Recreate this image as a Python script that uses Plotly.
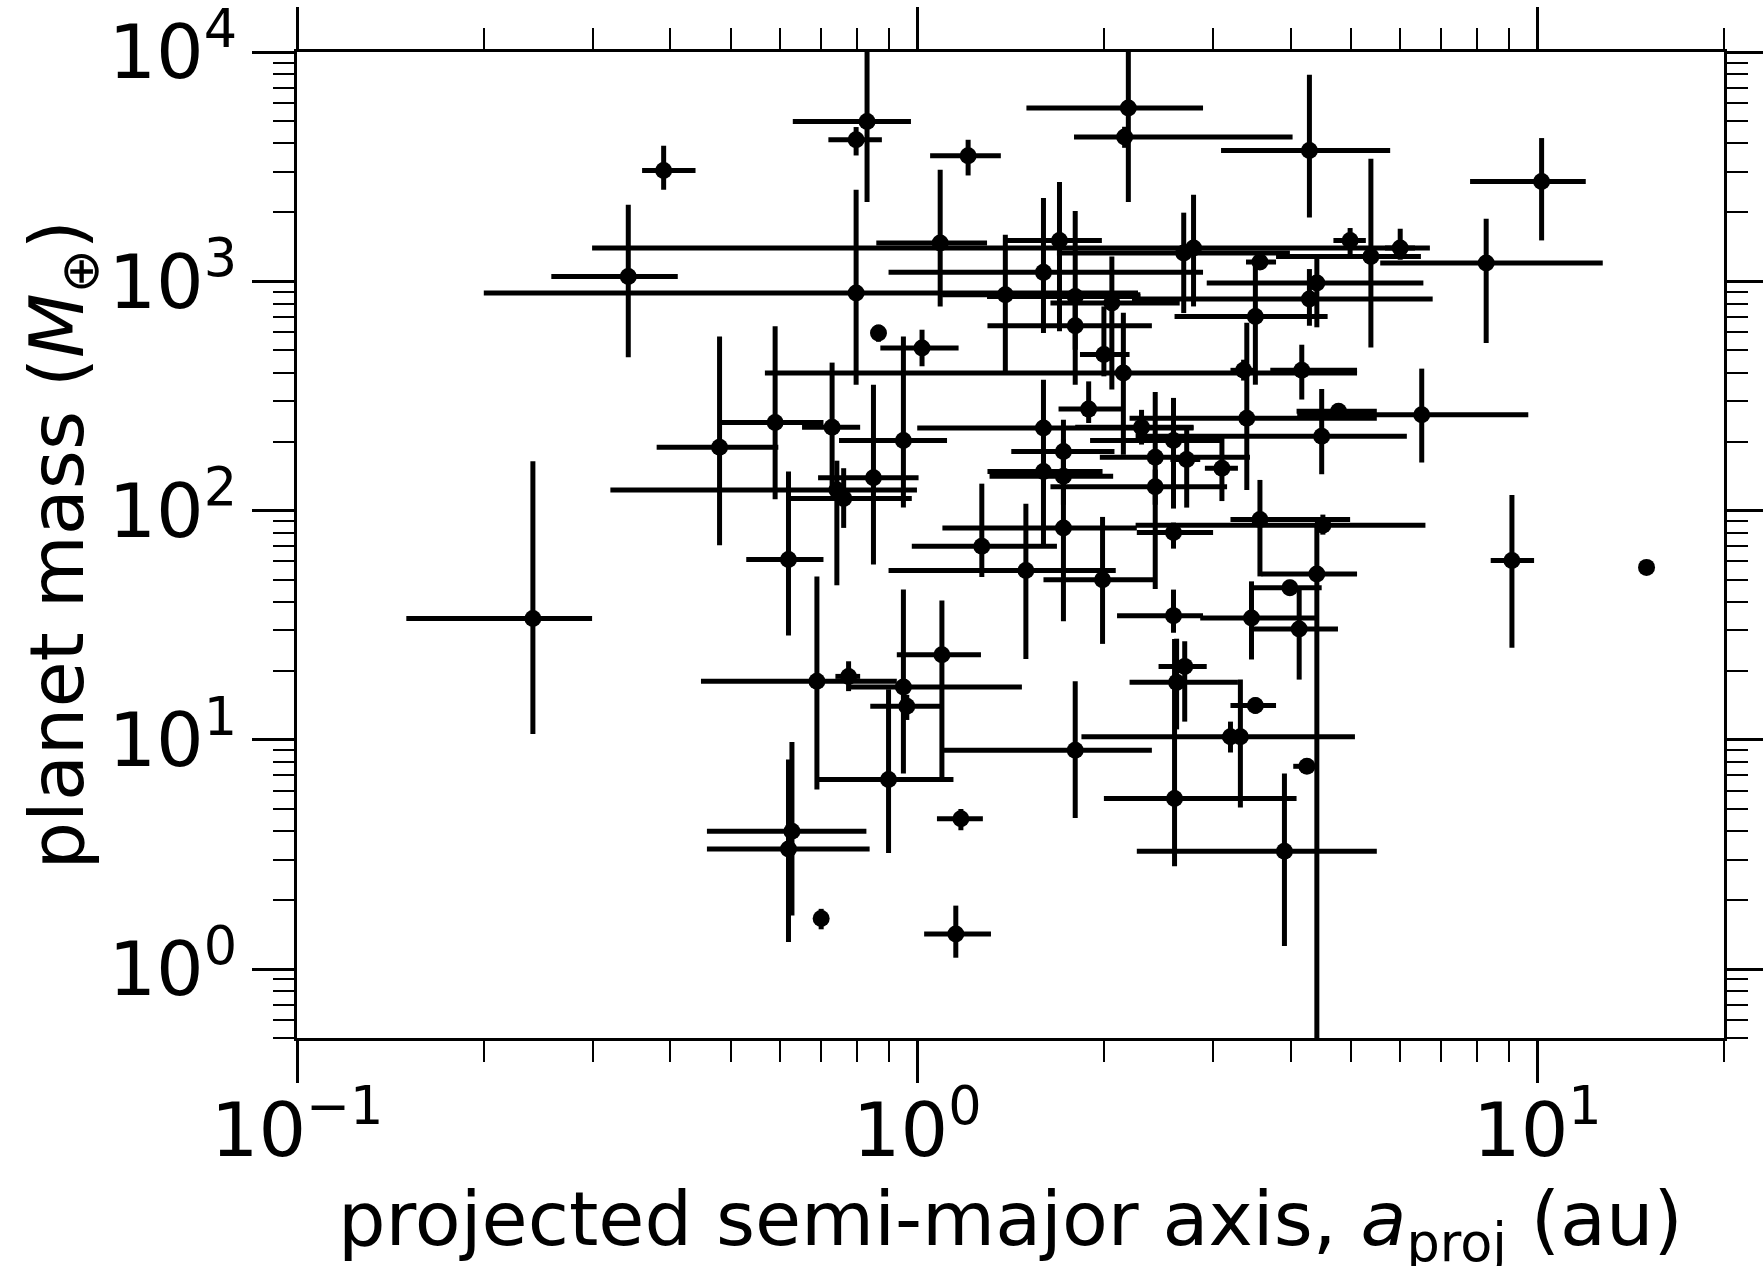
import math
import plotly.graph_objects as go

# projected semi-major axis (au): centre, lower bound, upper bound
a_proj = [0.390, 0.342, 0.240, 0.480, 0.689, 0.628, 0.620, 0.700, 1.176, 1.154,
          1.798, 2.60, 3.91, 3.20, 3.32, 4.25, 4.41, 3.51, 6.51, 4.78,
          3.40, 4.49, 3.57, 4.51, 3.99, 4.13, 3.46, 9.10, 15.0, 10.16,
          8.27, 4.29, 4.99, 6.01, 5.39, 3.57, 4.41, 4.29, 3.51, 4.17,
          0.830, 0.797, 1.208, 2.19, 2.16, 0.797, 1.089, 1.696, 2.79, 2.69,
          1.598, 1.387, 1.798, 2.06, 1.798, 2.00, 2.15, 3.36, 0.866, 1.018,
          0.590, 0.729, 0.950, 0.620, 0.850, 0.742, 0.761, 0.775, 0.950, 0.962,
          1.096, 0.899, 1.271, 1.497, 1.721, 1.99, 1.598, 1.598, 1.721, 1.721,
          1.89, 2.30, 2.59, 2.42, 2.42, 2.72, 3.10, 2.59, 2.59, 2.62, 2.70]
a_low = [0.360, 0.257, 0.150, 0.380, 0.448, 0.458, 0.458, 0.685, 1.076, 1.026,
         1.103, 2.00, 2.26, 3.10, 1.84, 4.04, 3.59, 3.20, 4.10, 4.09,
         2.20, 2.25, 3.20, 2.25, 3.48, 3.48, 2.86, 8.41, 15.0, 7.79,
         5.58, 3.09, 4.69, 5.68, 3.79, 3.39, 2.93, 2.22, 2.60, 3.71,
         0.630, 0.719, 1.049, 1.50, 1.79, 0.200, 0.859, 1.387, 0.299, 1.68,
         0.899, 1.097, 1.296, 1.64, 1.298, 1.83, 0.568, 3.20, 0.850, 0.872,
         0.481, 0.652, 0.748, 0.530, 0.692, 0.320, 0.624, 0.738, 0.770, 0.840,
         0.927, 0.689, 0.980, 0.899, 1.098, 1.598, 1.00, 1.298, 1.418, 1.308,
         1.69, 1.798, 1.90, 1.97, 1.64, 2.56, 2.91, 2.26, 2.10, 2.20, 2.45]
a_high = [0.439, 0.411, 0.299, 0.597, 0.927, 0.828, 0.838, 0.716, 1.276, 1.315,
          2.39, 4.09, 5.51, 3.29, 5.08, 4.38, 5.12, 3.79, 9.67, 5.51,
          5.51, 6.16, 4.99, 6.60, 4.49, 4.77, 4.41, 9.88, 15.0, 11.97,
          12.75, 5.79, 5.29, 6.35, 6.49, 3.79, 6.55, 6.78, 4.59, 5.12,
          0.977, 0.877, 1.364, 2.89, 4.03, 2.27, 1.296, 1.985, 6.71, 3.99,
          2.89, 2.29, 2.29, 2.65, 2.39, 2.20, 5.12, 3.52, 0.885, 1.166,
          0.706, 0.809, 1.117, 0.706, 1.005, 0.999, 0.980, 0.809, 1.475, 1.096,
          1.267, 1.144, 1.68, 2.09, 2.26, 2.40, 2.79, 1.99, 2.08, 2.07,
          2.14, 2.79, 3.08, 3.44, 3.16, 2.86, 3.29, 3.00, 2.89, 3.29, 2.93]

# planet mass (Earth masses): centre, lower bound, upper bound
mass = [3045, 1050, 33.8, 189, 18.0, 3.99, 3.34, 1.66, 4.52, 1.42,
        9.00, 5.54, 3.26, 10.3, 10.3, 7.66, 52.9, 14.1, 262, 271,
        253, 211, 91.3, 86.2, 46.0, 30.4, 34.0, 60.5, 56.5, 2728,
        1202, 3723, 1508, 1397, 1284, 1214, 983, 837, 703, 409,
        4977, 4145, 3529, 5700, 4260, 889, 1469, 1508, 1397, 1329,
        1094, 874, 859, 804, 640, 479, 398, 409, 595, 512,
        242, 231, 202, 61.1, 139, 123, 113, 18.9, 17.0, 14.0,
        23.5, 6.71, 69.8, 54.8, 84.0, 49.9, 229, 148, 181, 141,
        277, 231, 202, 171, 127, 167, 153, 80.3, 34.8, 17.8, 20.9]
mass_low = [2509, 466, 10.6, 70.5, 6.07, 1.71, 1.31, 1.49, 4.03, 1.12,
            4.56, 2.81, 1.26, 8.80, 5.06, 7.19, 0.3, 13.0, 162, 249,
            123, 144, 51.6, 78.5, 42.6, 18.3, 22.4, 25.2, 56.5, 1508,
            538, 1900, 1284, 1242, 515, 1124, 630, 640, 354, 305,
            2217, 3540, 2896, 2217, 3823, 354, 777, 605, 777, 727,
            595, 391, 354, 337, 503, 385, 175, 369, 545, 426,
            112, 123, 103, 28.5, 58.1, 47.2, 84.0, 16.3, 7.12, 12.2,
            6.59, 3.21, 51.3, 22.5, 32.9, 26.2, 68.7, 123, 136, 106,
            241, 194, 102, 45.5, 106, 103, 110, 68.2, 29.3, 11.1, 12.0]
mass_high = [3904, 2158, 164, 575, 51.6, 9.79, 8.20, 1.83, 4.99, 1.89,
             18.0, 27.5, 7.12, 12.0, 18.3, 8.20, 85.3, 15.3, 416, 293,
             660, 339, 136, 96, 49.9, 45.2, 49.1, 117, 56.5, 4216,
             1875, 7962, 1708, 1696, 3424, 1306, 1284, 1131, 1205, 529,
             15000, 4710, 4145, 15000, 4723, 2509, 3067, 2710, 2386, 1993,
             2308, 1597, 2025, 1284, 831, 777, 730, 455, 647, 615,
             636, 442, 575, 148, 354, 165, 153, 22.0, 45.2, 15.7,
             40.5, 16.6, 131, 107, 204, 93.8, 372, 175, 249, 194,
             366, 275, 310, 329, 151, 225, 211, 88.6, 45.2, 27.6, 26.9]

x_tick_vals = [0.1, 1, 10]
x_tick_text = ["10<sup>\u22121</sup>", "10<sup>0</sup>", "10<sup>1</sup>"]
y_tick_vals = [1, 10, 100, 1000, 10000]
y_tick_text = ["10<sup>0</sup>", "10<sup>1</sup>", "10<sup>2</sup>", "10<sup>3</sup>", "10<sup>4</sup>"]

x_minor = [m * 10 ** e for e in (-1, 0) for m in range(2, 10)] + [20]
y_minor = [m * 0.1 for m in range(5, 10)] + [m * 10 ** e for e in range(0, 4) for m in range(2, 10)]

ex_plus = [h - c for c, h in zip(a_proj, a_high)]
ex_minus = [c - l for c, l in zip(a_proj, a_low)]
ey_plus = [h - c for c, h in zip(mass, mass_high)]
ey_minus = [c - l for c, l in zip(mass, mass_low)]

fig = go.Figure()
fig.add_trace(go.Scatter(
    x=a_proj, y=mass, mode="markers",
    marker=dict(color="black", size=17, line=dict(width=0)),
    error_x=dict(type="data", symmetric=False, array=ex_plus, arrayminus=ex_minus,
                 color="black", thickness=5, width=0),
    error_y=dict(type="data", symmetric=False, array=ey_plus, arrayminus=ey_minus,
                 color="black", thickness=5, width=0),
    cliponaxis=True,
))

axis_common = dict(
    type="log", showline=True, linecolor="black", linewidth=2.5, mirror="allticks",
    ticks="outside", ticklen=42, tickwidth=2.5, tickcolor="black",
    showgrid=False, zeroline=False, automargin=False, ticklabeloverflow="allow",
    tickfont=dict(family="DejaVu Sans", size=75, color="black"),
)

fig.update_xaxes(
    range=[-1.0002, math.log10(20)], tickmode="array", tickvals=x_tick_vals, ticktext=x_tick_text,
    ticklabelstandoff=-17,
    minor=dict(tickmode="array", tickvals=x_minor, ticks="outside", ticklen=21,
               tickwidth=2, tickcolor="black", showgrid=False),
    **axis_common)
fig.update_yaxes(
    range=[math.log10(0.5), 4.0004], tickmode="array", tickvals=y_tick_vals, ticktext=y_tick_text,
    minor=dict(tickmode="array", tickvals=y_minor, ticks="outside", ticklen=21,
               tickwidth=2, tickcolor="black", showgrid=False),
    **axis_common)

fig.add_annotation(
    text="projected semi-major axis, <i>a</i><sub>proj</sub> (au)",
    xref="paper", yref="paper", x=0.5, y=-0.137, xanchor="center", yanchor="top",
    showarrow=False, font=dict(family="DejaVu Sans", size=75, color="black"))
fig.add_annotation(
    text="planet mass (<i>M</i><sub>\u2295</sub>)",
    xref="paper", yref="paper", x=-0.165, y=0.50, xanchor="center", yanchor="middle",
    textangle=-90, showarrow=False,
    font=dict(family="DejaVu Sans", size=75, color="black"))

fig.update_layout(
    width=1763, height=1266,
    margin=dict(l=297, r=39, t=52, b=228, pad=0, autoexpand=False),
    plot_bgcolor="white", paper_bgcolor="white", showlegend=False,
    font=dict(family="DejaVu Sans", color="black", size=75),
)

fig.write_html(
    "out.html",
    config={"displayModeBar": False},
    post_script="document.body.style.margin='0';document.body.style.padding='0';"
                "document.body.style.overflow='hidden';",
)
